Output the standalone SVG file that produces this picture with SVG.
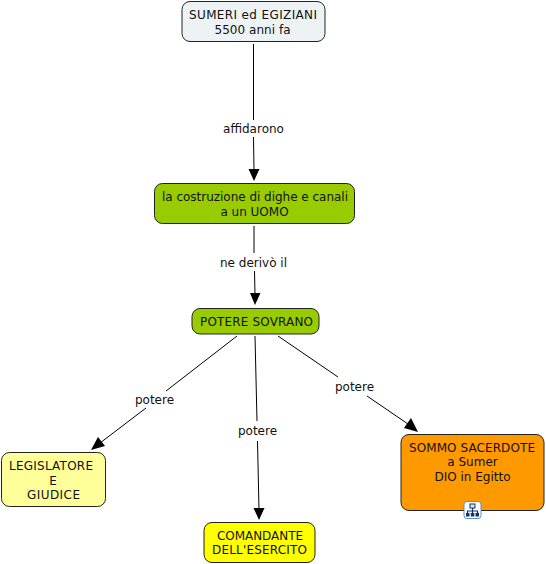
<svg xmlns="http://www.w3.org/2000/svg" width="546" height="564" viewBox="0 0 546 564">
<style>
text{font-family:"DejaVu Sans",Verdana,sans-serif;font-size:12px;fill:#111;text-anchor:middle}
.n{stroke:#222;stroke-width:1}
.c{stroke:#000;stroke-width:1;fill:none}
.h{fill:#000;stroke:none}
</style>
<rect width="546" height="564" fill="#fff"/>
<g id="connectors">
<path class="c" d="M253.500 44V120M253.500 137L254 170"/><polygon class="h" points="254,181 248.500,169 259.500,169"/>
<path class="c" d="M254 226V253M254.500 271L255 295"/><polygon class="h" points="255,305 250,293 260.500,293"/>
<path class="c" d="M237 336L166 391M146 408L100 443"/><polygon class="h" points="91,450 98,437 105,446"/>
<path class="c" d="M255 336L257 421M257.500 441L259 510"/><polygon class="h" points="259,520 253.500,508 264.500,508"/>
<path class="c" d="M278 336L338 377M367 396L408 424"/><polygon class="h" points="418,432 404,428 411,418"/>
<text x="253.500" y="133">affidarono</text>
<text x="253.500" y="267" textLength="67">ne derivò il</text>
<text x="154.500" y="404">potere</text>
<text x="257.500" y="435">potere</text>
<text x="354.500" y="391">potere</text>
</g>
<g id="n1"><rect class="n" x="182" y="1.500" width="143" height="40" rx="8" fill="#edf3f5"/><text x="253" y="19" textLength="128">SUMERI ed EGIZIANI</text><text x="252.500" y="34" textLength="76">5500 anni fa</text></g>
<g id="n2"><rect class="n" x="154.500" y="183.500" width="200" height="40" rx="8" fill="#99cc00"/><text x="255" y="201" textLength="186">la costruzione di dighe e canali</text><text x="254.500" y="216">a un UOMO</text></g>
<g id="n3"><rect class="n" x="192" y="308.500" width="127" height="25.500" rx="8" fill="#99cc00"/><text x="256.500" y="326" textLength="113">POTERE SOVRANO</text></g>
<g id="n4"><rect class="n" x="1.500" y="452.500" width="104" height="54" rx="8" fill="#ffff99"/><text x="51" y="470" textLength="84">LEGISLATORE</text><text x="53" y="485">E</text><text x="53.500" y="499" textLength="53">GIUDICE</text></g>
<g id="n5"><rect class="n" x="204" y="522.500" width="111" height="40" rx="8" fill="#ffff00"/><text x="260" y="540" textLength="86">COMANDANTE</text><text x="259.500" y="554" textLength="95">DELL'ESERCITO</text></g>
<g id="n6"><rect class="n" x="401" y="434.500" width="143" height="76" rx="8" fill="#ff9900"/><text x="472" y="452" textLength="126">SOMMO SACERDOTE</text><text x="472.500" y="466">a Sumer</text><text x="472.500" y="481">DIO in Egitto</text>
<g id="n6-icon"><rect x="464" y="501.500" width="17" height="17" rx="3" fill="#fff" stroke="#5b8fc7"/><path d="M472.500 508V513M467.500 514V511H477.500V514" fill="none" stroke="#12306a" stroke-width="1.200"/><rect x="470" y="504" width="5" height="4" fill="#dbe6f5" stroke="#12306a"/><rect x="466" y="513" width="3.500" height="3.500" fill="#12306a"/><rect x="470.800" y="513" width="3.500" height="3.500" fill="#12306a"/><rect x="475.500" y="513" width="3.500" height="3.500" fill="#12306a"/></g></g>
</svg>
